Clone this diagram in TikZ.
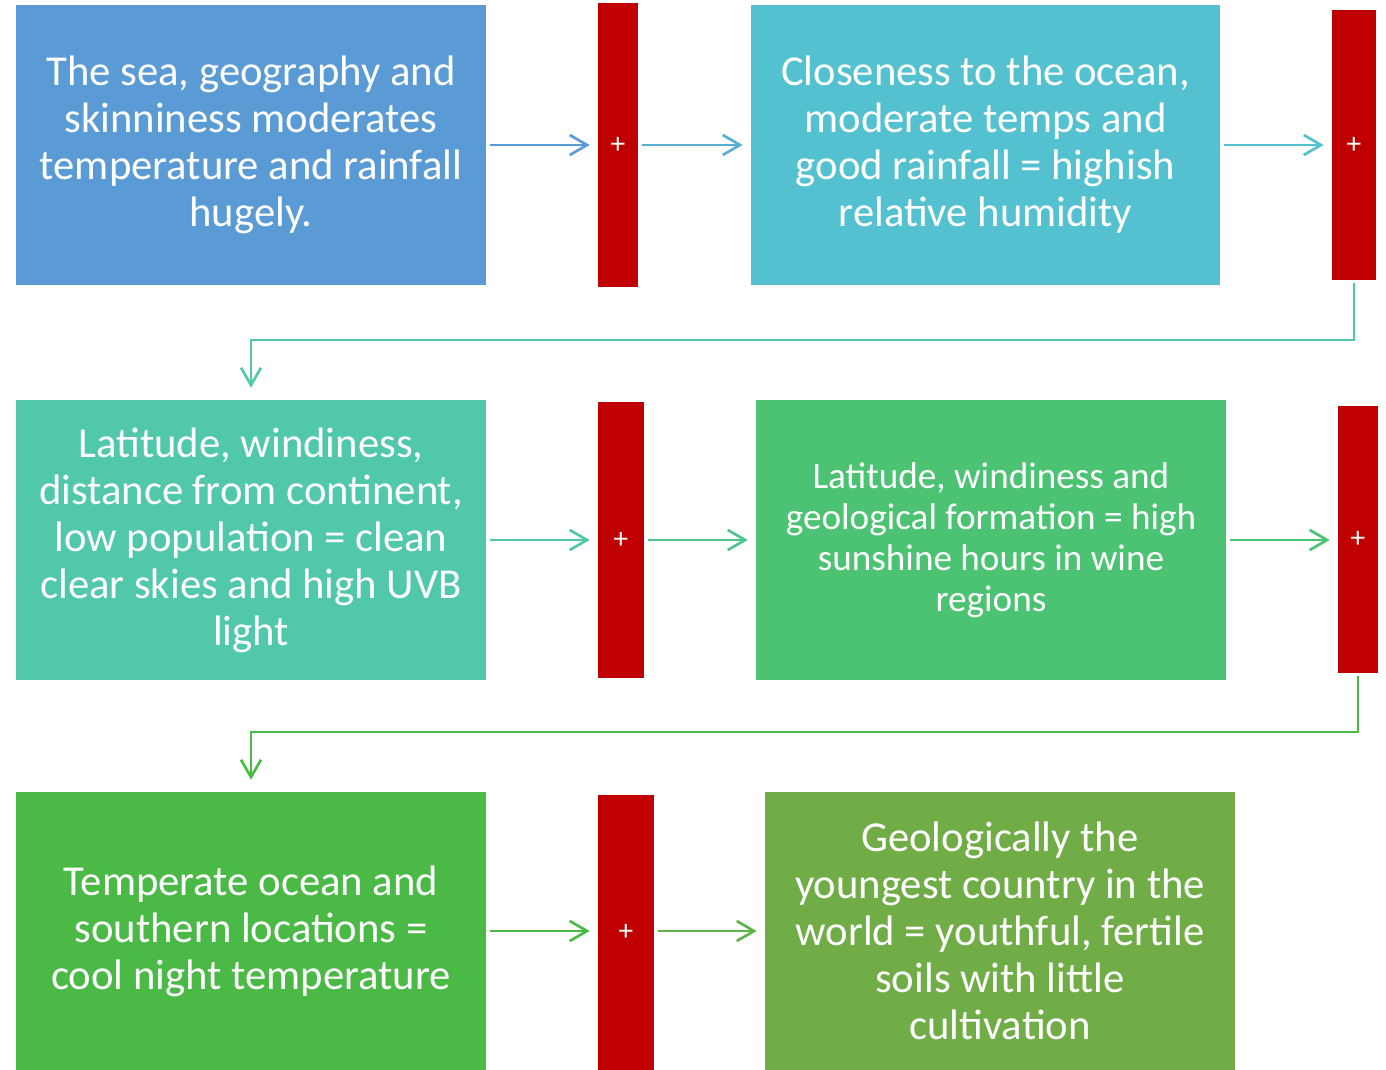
\documentclass[tikz,border=0pt]{standalone}
\usepackage{fontspec}
\setmainfont{Carlito}
\usetikzlibrary{arrows.meta}
\definecolor{cA}{HTML}{5B9BD5}
\definecolor{cB}{HTML}{53C1CF}
\definecolor{cC}{HTML}{50C8A9}
\definecolor{cD}{HTML}{4CC273}
\definecolor{cE}{HTML}{4AB946}
\definecolor{cF}{HTML}{70AD47}
\definecolor{barred}{HTML}{C00000}
\definecolor{aAB}{HTML}{58AED3}
\definecolor{aCD}{HTML}{4EC48E}
\definecolor{aEF}{HTML}{5EB447}
\begin{document}
\begin{tikzpicture}[x=0.75pt,y=-0.75pt,
  box/.style={inner sep=0pt, minimum width=352.5pt, minimum height=210pt, align=center, text=white,
    font=\fontsize{32}{35.25}\selectfont},
  smallbox/.style={box, font=\fontsize{27.9}{30.75}\selectfont},
  bar/.style={fill=barred, inner sep=0pt, text=white, font=\fontsize{22}{24}\selectfont},
  arr/.style={line width=2pt, -{Straight Barb[length=13pt,width=15pt,line width=2pt]}, shorten <=3pt, shorten >=6pt},
  conn/.style={line width=2.2pt, -{Straight Barb[length=13pt,width=15pt,line width=2pt]}, shorten <=2pt, shorten >=9pt}]
\useasboundingbox (0,0) rectangle (1386,1070);
% row 1
\node[box, fill=cA] (A) at (251,145) {The sea, geography and\\skinniness moderates\\temperature and rainfall\\hugely.};
\node[bar, minimum width=30pt, minimum height=213pt] (b1) at (618,145) {+};
\node[box, fill=cB, minimum width=351.75pt] (B) at (985.5,145) {Closeness to the ocean,\\moderate temps and\\good rainfall = highish\\relative humidity};
\node[bar, minimum width=33pt, minimum height=202.5pt] (b2) at (1354,145) {+};
% row 2
\node[box, fill=cC] (C) at (251,540) {Latitude, windiness,\\distance from continent,\\low population = clean\\clear skies and high UVB\\light};
\node[bar, minimum width=34.5pt, minimum height=207pt] (b3) at (621,540) {+};
\node[smallbox, fill=cD] (D) at (991,540) {Latitude, windiness and\\geological formation = high\\sunshine hours in wine\\regions};
\node[bar, minimum width=30pt, minimum height=200.25pt] (b4) at (1358,539.5) {+};
% row 3
\node[box, fill=cE, minimum height=208.5pt] (E) at (251,931) {Temperate ocean and\\southern locations =\\cool night temperature};
\node[bar, minimum width=42pt, minimum height=206.25pt] (b5) at (626,932.5) {+};
\node[box, fill=cF, minimum height=208.5pt] (F) at (1000,931) {Geologically the\\youngest country in the\\world = youthful, fertile\\soils with little\\cultivation};
% arrows
\draw[arr, draw=cA] (A.east) -- (b1.west |- A.east);
\draw[arr, draw=aAB] (b1.east |- A.east) -- (B.west);
\draw[arr, draw=cB] (B.east) -- (b2.west |- B.east);
\draw[arr, draw=cC] (C.east) -- (b3.west |- C.east);
\draw[arr, draw=aCD] (b3.east |- C.east) -- (D.west);
\draw[arr, draw=cD] (D.east) -- (b4.west |- D.east);
\draw[arr, draw=cE] (E.east) -- (b5.west |- E.east);
\draw[arr, draw=aEF] (b5.east |- E.east) -- (F.west);
% connectors
\coordinate (k1) at (0,340);
\coordinate (k2) at (0,732);
\draw[conn, draw=cC, line join=miter] (b2.south) -- (b2.south |- k1) -| (C.north);
\draw[conn, draw=cE, line join=miter] (b4.south) -- (b4.south |- k2) -| (E.north);
\end{tikzpicture}
\end{document}
